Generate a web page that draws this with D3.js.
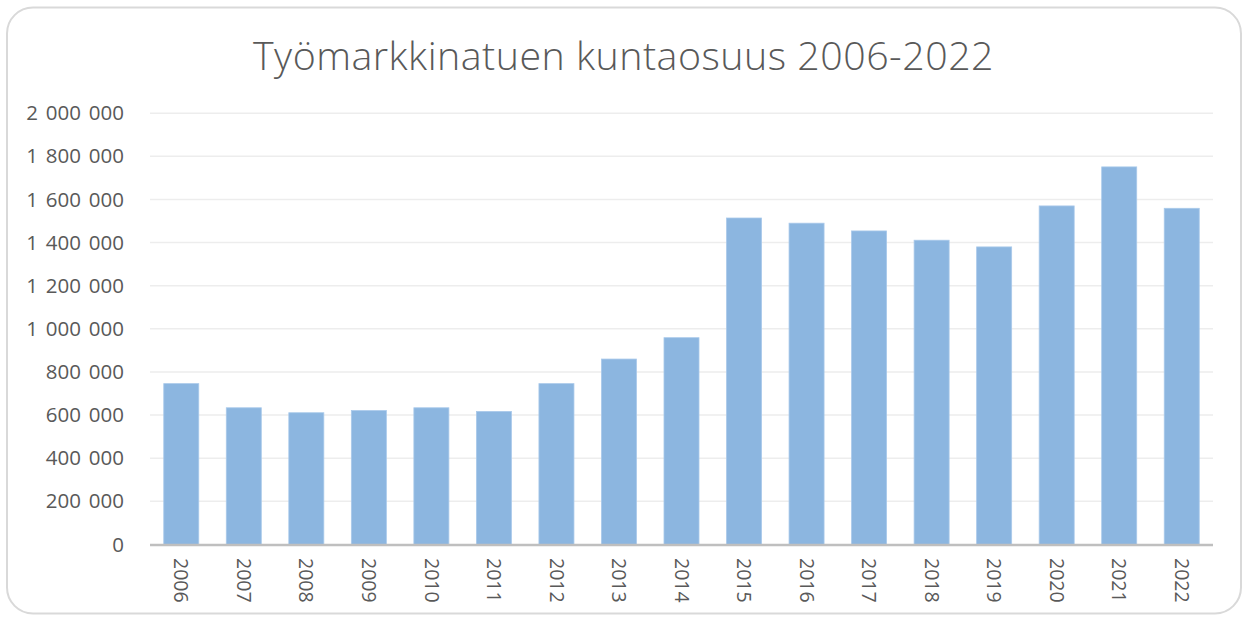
<!DOCTYPE html>
<html><head><meta charset="utf-8">
<script src="https://cdn.jsdelivr.net/npm/d3@7"></script>
<style>
html,body{margin:0;padding:0;background:#fff;}
svg{display:block;}
text{font-family:"Open Sans","Noto Sans",sans-serif;}
</style></head>
<body>
<svg id="c" width="1245" height="617"></svg>
<script>
const title = "Työmarkkinatuen kuntaosuus 2006-2022";
const years = ["2006","2007","2008","2009","2010","2011","2012","2013","2014","2015","2016","2017","2018","2019","2020","2021","2022"];
const values = [746000,634000,611000,621000,634000,617000,746000,860000,959000,1514000,1490000,1454000,1411000,1380000,1570000,1751000,1559000];
const yTicks = [0,200000,400000,600000,800000,1000000,1200000,1400000,1600000,1800000,2000000];

const svg = d3.select("#c");
const m = {left:150, right:1213, top:113.2, bottom:544.5};

svg.append("rect").attr("x",7).attr("y",7.5).attr("width",1234).attr("height",606)
  .attr("rx",26).attr("ry",26).attr("fill","#fff").attr("stroke","#d9d9d9").attr("stroke-width",2);

const x = d3.scaleBand().domain(years).range([m.left,m.right]).paddingInner(0.44).paddingOuter(0.22);
const y = d3.scaleLinear().domain([0,2000000]).range([m.bottom,m.top]);

// gridlines
svg.append("g").selectAll("line").data(yTicks.filter(d=>d>0)).join("line")
  .attr("x1",m.left).attr("x2",m.right).attr("y1",d=>y(d)).attr("y2",d=>y(d))
  .attr("stroke","#ededed").attr("stroke-width",1.5);

// y axis labels
const fmt = d => d3.format(",")(d).replace(/,/g," ");
const yAxis = d3.axisLeft(y).tickValues(yTicks).tickFormat(fmt).tickSize(0).tickPadding(0);
const ga = svg.append("g").attr("transform",`translate(124,0)`).call(yAxis);
ga.select(".domain").remove();
ga.selectAll("text").attr("font-size",20.5).attr("fill","#595959")
  .style("font-family",'"Open Sans","Noto Sans",sans-serif').style("word-spacing","2.5px");

// bars
svg.append("g").selectAll("rect").data(years).join("rect")
  .attr("x",d=>x(d)).attr("width",x.bandwidth())
  .attr("y",(d,i)=>y(values[i])).attr("height",(d,i)=>y(0)-y(values[i]))
  .attr("fill","#8cb6e0").attr("stroke","#a9c9ea").attr("stroke-width",0.8);

// x axis
svg.append("line").attr("x1",m.left).attr("x2",m.right).attr("y1",y(0)+0.5).attr("y2",y(0)+0.5)
  .attr("stroke","#bfbfbf").attr("stroke-width",2.5);
const xAxis = d3.axisBottom(x).tickSize(0).tickPadding(0);
const gx = svg.append("g").attr("transform",`translate(0,${y(0)})`).call(xAxis);
gx.select(".domain").remove();
gx.selectAll("text").attr("font-size",19.5).attr("fill","#595959")
  .style("font-family",'"Open Sans","Noto Sans",sans-serif')
  .attr("transform","translate(0,13.5) rotate(90)").attr("text-anchor","start")
  .attr("x",0).attr("y",0).attr("dy","0.35em");

// title
const t = svg.append("text").attr("x",623.5).attr("y",69.5).attr("text-anchor","middle")
  .attr("fill","#595959").attr("font-size",36).attr("font-weight",300)
  .style("letter-spacing","0.5px").text(title);
const len = t.node().getComputedTextLength();
t.attr("font-size",36*743/len);
</script>
</body></html>
